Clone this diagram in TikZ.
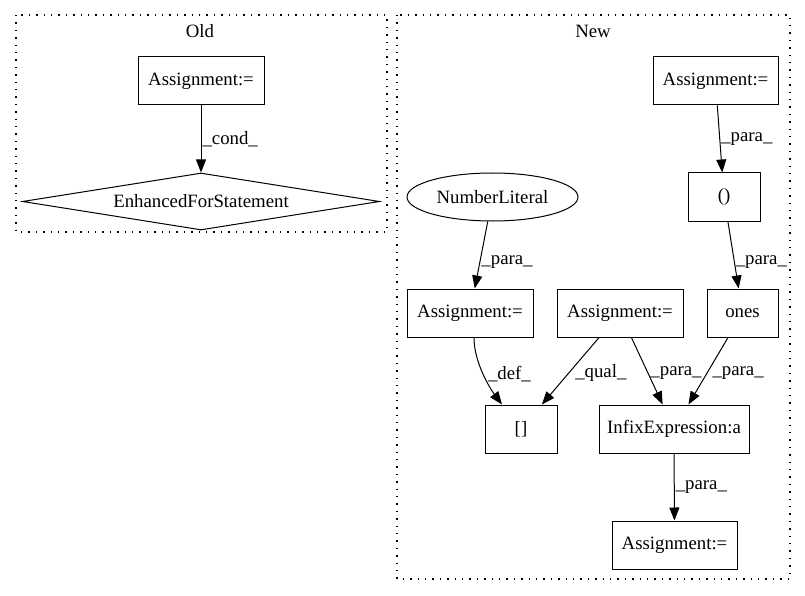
\documentclass[tikz,border=0pt]{standalone}
\usepackage{fontspec}
\setmainfont{Liberation Serif}
\usetikzlibrary{shapes.geometric,arrows.meta,calc}
\begin{document}
\begin{tikzpicture}[x=1pt,y=-1pt,
  every node/.style={font=\fontsize{18.8}{22}\selectfont, inner sep=0pt},
  box/.style={draw, line width=1pt, rectangle, minimum height=48pt},
  cluster/.style={draw, line width=1.1pt, dash pattern=on 1.4pt off 6pt},
  edge/.style={draw, line width=1pt, -{Triangle[length=13pt,width=10pt]}},
  lbl/.style={anchor=west, inner sep=1pt}]
\path[use as bounding box] (0,0) rectangle (805,596);
\draw[cluster] (16,15) rectangle (387,232);
\draw[cluster] (397,15) rectangle (790,579);
\node (oldt) at (200,31) {Old};
\node (newt) at (593,31) {New};
% Old
\node[box, minimum width=126pt] (oa) at (201,81) {Assignment:=};
\node[draw, diamond, aspect=6.26, minimum width=357pt, minimum height=57pt, line width=1pt] (efs) at (201,201.5) {EnhancedForStatement};
\draw[edge] (oa) -- node[lbl, pos=0.5]{\_cond\_} (efs);
% New
\node[box, minimum width=125pt] (na1) at (715.5,81) {Assignment:=};
\node[box, minimum width=72pt] (paren) at (724,197) {()};
\node[draw, ellipse, line width=1pt, minimum width=171pt, minimum height=48pt] (num) at (492.5,197) {NumberLiteral};
\node[box, minimum width=126pt] (al) at (470,313) {Assignment:=};
\node[box, minimum width=126pt] (am) at (620,313) {Assignment:=};
\node[box, minimum width=71pt] (ones) at (742.5,313) {ones};
\node[box, minimum width=72pt] (br) at (521,429) {[]};
\node[box, minimum width=150pt] (inf) at (674,429) {InfixExpression:a};
\node[box, minimum width=125pt] (ab) at (674.5,545) {Assignment:=};
\draw[edge] (na1) -- node[lbl, pos=0.5]{\_para\_} (paren);
\draw[edge] (num) -- node[lbl, pos=0.6]{\_para\_} (al);
\draw[edge] (paren) -- node[lbl, pos=0.6]{\_para\_} (ones);
\draw[edge] ($(al.south)+(4,0)$) .. controls +(0,25) and +(-12,-16) .. ($(br.north)+(-19,0)$) node[lbl, pos=0.5, xshift=3pt]{\_def\_};
\draw[edge] (am) -- node[lbl, pos=0.53, xshift=5pt]{\_qual\_} (br);
\draw[edge] (am) -- node[lbl, pos=0.53, xshift=1pt]{\_para\_} (inf);
\draw[edge] (ones) -- node[lbl, pos=0.53, xshift=4pt]{\_para\_} (inf);
\draw[edge] (inf) -- node[lbl, pos=0.5]{\_para\_} (ab);
\end{tikzpicture}
\end{document}
